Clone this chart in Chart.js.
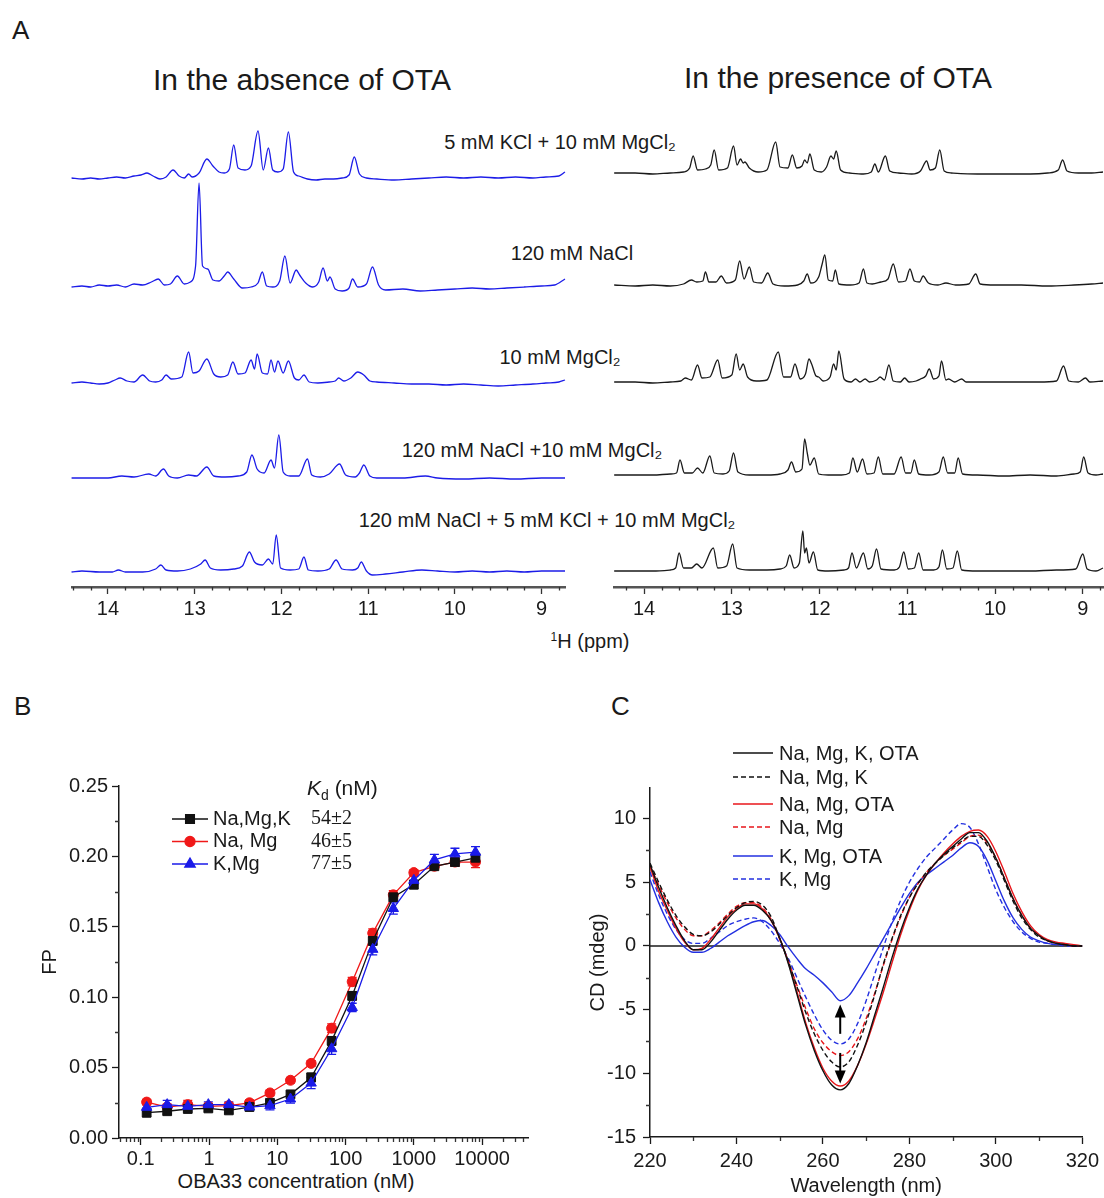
<!DOCTYPE html>
<html>
<head>
<meta charset="utf-8">
<script src="https://cdn.jsdelivr.net/npm/chart.js@4.4.1/dist/chart.umd.min.js"></script>
<style>
  html, body { margin: 0; padding: 0; background: #fff; }
  #fig { position: relative; width: 1104px; height: 1198px; overflow: hidden;
         font-family: 'Liberation Sans', Arial, sans-serif; color: #1a1a1a; }
  #fig canvas { position: absolute; }
  .t { position: absolute; white-space: nowrap; transform: translate(-50%, -50%); line-height: 1; }
  .panel { position: absolute; font-size: 26px; line-height: 1; }
  .head { font-size: 30px; }
  .lab { font-size: 20px; }
</style>
</head>
<body>
<div id="fig">
  <div class="panel" style="left:12px;top:17px">A</div>
  <div class="panel" style="left:14px;top:693px">B</div>
  <div class="panel" style="left:611px;top:693px">C</div>

  <div class="t head" style="left:302px;top:80px">In the absence of OTA</div>
  <div class="t head" style="left:838px;top:78px">In the presence of OTA</div>

  <div class="t lab" style="left:560px;top:142px">5 mM KCl + 10 mM MgCl₂</div>
  <div class="t lab" style="left:572px;top:253px">120 mM NaCl</div>
  <div class="t lab" style="left:560px;top:357px">10 mM MgCl₂</div>
  <div class="t lab" style="left:532px;top:450px">120 mM NaCl +10 mM MgCl₂</div>
  <div class="t lab" style="left:547px;top:520px">120 mM NaCl + 5 mM KCl + 10 mM MgCl₂</div>
  <div class="t lab" style="left:590px;top:641px"><sup style="font-size:12px">1</sup>H (ppm)</div>
  <div class="t lab" style="left:296px;top:1181px">OBA33 concentration (nM)</div>

  <canvas id="nmrLeft" width="580" height="560" style="left:0;top:100px;width:580px;height:560px"></canvas>
  <canvas id="nmrRight" width="504" height="560" style="left:600px;top:100px;width:504px;height:560px"></canvas>
  <canvas id="fp" width="560" height="438" style="left:0;top:760px;width:560px;height:438px"></canvas>
  <canvas id="cd" width="524" height="468" style="left:580px;top:730px;width:524px;height:468px"></canvas>
</div>

<script>
// ---------- Panel A: imino 1H NMR spectra, [ppm, intensity] ----------
// top to bottom: KCl+MgCl2, NaCl, MgCl2, NaCl+MgCl2, NaCl+KCl+MgCl2
const nmrFreeKMg = [[14.42,0],[14.3,-1],[14.2,0],[14.1,-1],[14.0,0],[13.9,1],[13.8,0],[13.7,2],[13.62,3],[13.55,5],[13.48,2],[13.4,-1],[13.33,1],[13.25,8],[13.18,2],[13.12,0],[13.07,4],[13.03,1],[12.95,5],[12.86,19],[12.79,12],[12.72,6],[12.66,5],[12.6,9],[12.55,33],[12.5,10],[12.42,8],[12.35,12],[12.27,47],[12.21,8],[12.15,30],[12.1,8],[12.04,6],[11.98,9],[11.92,46],[11.86,6],[11.8,2],[11.7,-1],[11.6,-2],[11.5,-1],[11.4,-1],[11.3,0],[11.22,3],[11.16,21],[11.1,4],[11.02,0],[10.9,-1],[10.7,-2],[10.5,-1],[10.3,0],[10.1,1],[9.9,0],[9.7,1],[9.5,0],[9.3,1],[9.1,0],[8.95,1],[8.8,2],[8.73,6]];
const nmrFreeNa = [[14.42,-1],[14.3,0],[14.2,-1],[14.1,1],[14.0,0],[13.9,1],[13.8,-1],[13.7,2],[13.6,1],[13.5,4],[13.42,7],[13.35,1],[13.28,2],[13.2,10],[13.12,2],[13.05,4],[12.99,20],[12.95,103],[12.91,20],[12.85,17],[12.79,6],[12.72,5],[12.66,10],[12.62,14],[12.55,7],[12.45,-2],[12.35,-1],[12.27,3],[12.22,14],[12.17,0],[12.1,-1],[12.02,5],[11.96,30],[11.9,3],[11.83,16],[11.79,11],[11.72,3],[11.64,-1],[11.57,4],[11.52,18],[11.47,5],[11.44,9],[11.38,-3],[11.3,-5],[11.22,-2],[11.18,7],[11.12,-1],[11.02,2],[10.95,19],[10.88,1],[10.8,-4],[10.6,-3],[10.4,-5],[10.2,-4],[10.0,-3],[9.8,-2],[9.6,-3],[9.4,-2],[9.2,-1],[9.0,0],[8.85,1],[8.73,7]];
const nmrFreeMg = [[14.42,0],[14.3,1],[14.2,0],[14.1,-1],[14.0,0],[13.92,3],[13.86,5],[13.78,2],[13.7,1],[13.6,8],[13.52,2],[13.45,1],[13.38,3],[13.33,8],[13.27,4],[13.15,6],[13.07,31],[13.02,10],[12.95,12],[12.86,24],[12.78,9],[12.7,6],[12.62,8],[12.56,21],[12.5,9],[12.42,10],[12.35,23],[12.31,14],[12.28,29],[12.22,10],[12.16,9],[12.12,23],[12.08,11],[12.04,22],[11.98,10],[11.92,22],[11.85,5],[11.8,3],[11.74,8],[11.68,1],[11.58,0],[11.45,1],[11.38,2],[11.34,5],[11.28,2],[11.2,5],[11.12,11],[11.05,8],[10.98,2],[10.9,1],[10.7,0],[10.5,-1],[10.3,-1],[10.1,-2],[9.9,-1],[9.7,-2],[9.5,-3],[9.3,-2],[9.1,-1],[8.95,0],[8.8,1],[8.73,3]];
const nmrFreeNaMg = [[14.42,0],[14.2,0],[14.0,0],[13.84,2],[13.7,1],[13.53,4],[13.45,2],[13.36,9],[13.3,2],[13.2,0],[13.07,3],[12.98,2],[12.86,11],[12.78,2],[12.65,1],[12.5,2],[12.4,6],[12.34,23],[12.28,9],[12.2,5],[12.12,18],[12.08,10],[12.03,43],[11.98,6],[11.9,2],[11.8,2],[11.7,19],[11.65,3],[11.55,1],[11.45,4],[11.33,14],[11.26,3],[11.15,1],[11.1,5],[11.05,13],[10.98,2],[10.9,0],[10.6,0],[10.34,2],[10.2,0],[9.9,-1],[9.6,0],[9.3,-1],[9.0,0],[8.73,0]];
const nmrFreeAll = [[14.42,0],[14.3,1],[14.1,0],[13.95,0],[13.88,2],[13.8,0],[13.6,0],[13.45,3],[13.39,7],[13.33,2],[13.2,1],[13.05,3],[12.93,8],[12.88,12],[12.82,4],[12.7,2],[12.55,3],[12.45,6],[12.37,20],[12.31,10],[12.22,7],[12.15,13],[12.1,8],[12.06,37],[12.01,4],[11.9,2],[11.8,3],[11.74,15],[11.69,2],[11.58,1],[11.45,3],[11.37,12],[11.3,3],[11.18,2],[11.12,4],[11.08,10],[11.02,1],[10.95,-3],[10.8,-2],[10.6,0],[10.38,2],[10.2,1],[10.0,0],[9.8,1],[9.6,0],[9.4,1],[9.2,0],[9.0,1],[8.73,1]];

const nmrOtaKMg = [[14.34,0],[14.1,0],[13.9,-1],[13.7,0],[13.55,1],[13.48,5],[13.44,17],[13.39,3],[13.3,4],[13.24,8],[13.2,23],[13.15,3],[13.05,5],[12.98,27],[12.94,8],[12.9,14],[12.87,10],[12.85,11],[12.8,5],[12.7,1],[12.6,3],[12.5,31],[12.45,6],[12.36,5],[12.31,18],[12.26,5],[12.2,7],[12.17,13],[12.14,10],[12.11,19],[12.06,3],[11.98,1],[11.92,6],[11.87,17],[11.84,14],[11.81,22],[11.76,3],[11.66,0],[11.5,-1],[11.41,1],[11.37,9],[11.33,1],[11.25,17],[11.2,2],[11.1,0],[10.95,-1],[10.85,2],[10.78,12],[10.74,3],[10.68,5],[10.63,23],[10.58,2],[10.5,0],[10.2,-1],[9.9,-1],[9.6,-1],[9.4,0],[9.28,3],[9.23,13],[9.18,2],[9.05,0],[8.9,0],[8.77,1]];
const nmrOtaNa = [[14.34,0],[14.1,-1],[13.9,0],[13.7,-1],[13.55,1],[13.46,5],[13.4,3],[13.33,4],[13.3,13],[13.26,3],[13.18,3],[13.12,9],[13.06,2],[12.96,5],[12.91,24],[12.86,6],[12.8,18],[12.75,3],[12.66,2],[12.59,12],[12.53,1],[12.4,-1],[12.25,0],[12.18,4],[12.14,11],[12.1,2],[12.01,8],[11.97,21],[11.94,30],[11.9,5],[11.85,4],[11.82,15],[11.78,1],[11.65,0],[11.55,2],[11.5,16],[11.46,2],[11.4,1],[11.3,3],[11.22,6],[11.16,21],[11.1,3],[11.02,4],[10.97,16],[10.92,4],[10.86,3],[10.82,9],[10.76,2],[10.65,0],[10.56,2],[10.45,0],[10.3,1],[10.22,11],[10.17,1],[10.0,0],[9.7,0],[9.4,-1],[9.1,0],[8.9,1],[8.77,2]];
const nmrOtaMg = [[14.34,0],[14.1,0],[13.9,-1],[13.7,0],[13.58,1],[13.53,4],[13.46,2],[13.39,17],[13.34,4],[13.25,5],[13.16,22],[13.11,4],[13.0,7],[12.95,28],[12.91,12],[12.87,18],[12.82,5],[12.72,1],[12.6,2],[12.47,30],[12.41,5],[12.33,5],[12.28,18],[12.22,3],[12.16,8],[12.12,23],[12.09,18],[12.04,6],[12.01,5],[11.96,1],[11.88,5],[11.84,18],[11.81,12],[11.78,31],[11.72,3],[11.64,0],[11.59,3],[11.54,0],[11.48,3],[11.43,0],[11.35,2],[11.31,5],[11.26,2],[11.21,17],[11.16,1],[11.08,0],[11.03,4],[10.98,0],[10.9,1],[10.85,3],[10.79,6],[10.75,13],[10.7,3],[10.64,6],[10.61,21],[10.56,2],[10.53,3],[10.46,0],[10.38,3],[10.33,0],[10.1,0],[9.8,0],[9.5,0],[9.3,1],[9.22,16],[9.16,1],[9.05,0],[8.97,4],[8.92,0],[8.77,1]];
const nmrOtaNaMg = [[14.34,0],[14.1,0],[13.9,0],[13.7,1],[13.63,2],[13.59,15],[13.54,2],[13.45,2],[13.39,7],[13.33,2],[13.25,19],[13.2,2],[13.1,1],[13.03,4],[12.98,22],[12.93,3],[12.8,0],[12.6,0],[12.45,1],[12.36,5],[12.32,13],[12.27,3],[12.2,6],[12.17,36],[12.14,22],[12.11,10],[12.06,17],[12.01,1],[11.9,0],[11.75,0],[11.66,2],[11.62,17],[11.57,3],[11.51,16],[11.46,1],[11.38,2],[11.33,18],[11.28,1],[11.15,1],[11.07,18],[11.02,2],[10.96,2],[10.92,15],[10.87,1],[10.75,0],[10.64,3],[10.59,18],[10.54,2],[10.46,2],[10.42,17],[10.37,1],[10.2,0],[9.9,-1],[9.6,0],[9.3,-1],[9.1,1],[9.03,3],[8.99,18],[8.94,2],[8.85,0],[8.77,1]];
const nmrOtaAll = [[14.34,0],[14.1,0],[13.9,0],[13.7,1],[13.64,3],[13.6,18],[13.55,3],[13.46,3],[13.4,7],[13.34,3],[13.21,23],[13.16,3],[13.06,5],[12.99,27],[12.94,3],[12.8,1],[12.6,1],[12.45,2],[12.38,5],[12.34,16],[12.29,3],[12.23,8],[12.19,40],[12.17,18],[12.15,23],[12.12,8],[12.07,19],[12.02,1],[11.9,0],[11.72,1],[11.67,3],[11.63,18],[11.58,3],[11.5,18],[11.45,2],[11.4,5],[11.35,22],[11.3,2],[11.15,1],[11.09,4],[11.04,19],[10.99,2],[10.92,3],[10.87,18],[10.82,1],[10.7,1],[10.64,4],[10.6,21],[10.55,2],[10.48,3],[10.43,20],[10.38,1],[10.2,0],[9.9,0],[9.6,0],[9.3,1],[9.08,2],[9.0,17],[8.95,2],[8.85,0],[8.77,3]];

// ---------- Panel B: fluorescence polarisation titration ----------
const fpConc = [0.122, 0.244, 0.488, 0.977, 1.95, 3.91, 7.81, 15.6, 31.3, 62.5, 125, 250, 500, 1000, 2000, 4000, 8000];
const fpNaMgK = [0.018, 0.019, 0.0206, 0.021, 0.0196, 0.022, 0.025, 0.031, 0.043, 0.069, 0.101, 0.140, 0.171, 0.180, 0.193, 0.196, 0.199];
const fpNaMgKErr = [0.003, 0.002, 0.002, 0.002, 0.002, 0.002, 0.002, 0.002, 0.003, 0.003, 0.003, 0.003, 0.003, 0.003, 0.002, 0.003, 0.003];
const fpNaMg = [0.0255, 0.022, 0.0237, 0.0225, 0.023, 0.025, 0.032, 0.041, 0.053, 0.078, 0.111, 0.1455, 0.1727, 0.1885, 0.193, 0.196, 0.196];
const fpNaMgErr = [0.002, 0.002, 0.003, 0.002, 0.002, 0.002, 0.002, 0.002, 0.002, 0.003, 0.003, 0.003, 0.003, 0.002, 0.002, 0.003, 0.004];
const fpKMg = [0.0218, 0.0237, 0.0225, 0.0237, 0.0237, 0.022, 0.023, 0.0277, 0.039, 0.0634, 0.0927, 0.134, 0.163, 0.183, 0.1975, 0.2018, 0.203];
const fpKMgErr = [0.003, 0.003, 0.003, 0.002, 0.002, 0.002, 0.003, 0.003, 0.004, 0.004, 0.003, 0.004, 0.004, 0.003, 0.004, 0.004, 0.004];
const fpLabels = ["Na,Mg,K", "Na, Mg", "K,Mg"];
const fpKd = ["54±2", "46±5", "77±5"];
const fpMajorTicks = [0.1, 1, 10, 100, 1000, 10000];
const fpYTicks = [0, 0.05, 0.1, 0.15, 0.2, 0.25];

// ---------- Panel C: CD spectra ----------
const cdWavelength = [220,222,224,226,228,230,232,234,236,238,240,242,244,246,248,250,252,254,256,258,260,262,264,266,268,270,272,274,276,278,280,282,284,286,288,290,292,294,296,298,300,302,304,306,308,310,312,314,316,318,320];
const cdNaMgKOta = [6.4,4.6,3.0,1.6,0.4,-0.3,-0.3,0.3,1.2,2.1,2.8,3.2,3.2,2.8,2.0,0.6,-1.4,-3.8,-6.2,-8.2,-9.8,-10.9,-11.3,-10.8,-9.4,-7.6,-5.4,-3.2,-0.9,1.2,3.0,4.5,5.6,6.5,7.2,7.8,8.4,8.9,8.9,8.2,6.9,5.3,3.7,2.4,1.4,0.8,0.4,0.2,0.1,0.0,0.0];
const cdNaMgK = [6.5,5.0,3.6,2.4,1.5,0.9,0.8,1.1,1.7,2.4,3.0,3.4,3.5,3.2,2.3,0.6,-1.2,-3.2,-5.2,-6.9,-8.2,-9.1,-9.5,-9.1,-7.8,-6.0,-3.8,-1.4,0.6,2.4,3.8,4.9,5.8,6.5,7.1,7.7,8.2,8.6,8.6,7.9,6.7,5.1,3.5,2.2,1.3,0.7,0.4,0.2,0.1,0.0,0.0];
const cdNaMgOta = [6.2,4.3,2.8,1.4,0.3,-0.3,-0.2,0.5,1.4,2.3,2.9,3.3,3.3,2.9,2.0,0.6,-1.3,-3.6,-6.0,-8.0,-9.6,-10.6,-11.0,-10.6,-9.4,-7.7,-5.7,-3.6,-1.3,0.9,2.8,4.4,5.6,6.5,7.3,8.0,8.6,9.0,9.1,8.6,7.4,5.8,4.1,2.7,1.6,0.9,0.5,0.3,0.2,0.1,0.0];
const cdNaMg = [6.3,4.8,3.4,2.2,1.3,0.8,0.8,1.2,1.8,2.5,3.1,3.4,3.4,3.0,2.1,0.5,-1.2,-3.1,-4.9,-6.5,-7.6,-8.3,-8.6,-8.3,-7.3,-5.7,-3.7,-1.5,0.5,2.3,3.8,4.9,5.8,6.5,7.1,7.6,8.1,8.6,8.7,8.1,6.9,5.3,3.7,2.4,1.4,0.8,0.4,0.2,0.1,0.0,0.0];
const cdKMgOta = [5.2,3.4,1.9,0.7,-0.1,-0.5,-0.5,-0.2,0.3,0.8,1.2,1.6,1.9,2.0,1.6,0.9,-0.1,-1.0,-1.8,-2.3,-2.9,-3.6,-4.3,-3.9,-2.9,-1.8,-0.6,0.6,1.8,3.0,4.1,5.0,5.6,6.1,6.6,7.1,7.7,8.1,7.8,6.7,5.1,3.5,2.2,1.3,0.7,0.4,0.2,0.1,0.1,0.0,0.0];
const cdKMg = [5.8,4.0,2.5,1.3,0.5,0.2,0.2,0.6,1.1,1.6,1.9,2.1,2.2,1.9,1.2,0.2,-1.0,-2.5,-4.0,-5.4,-6.6,-7.4,-7.7,-7.3,-6.1,-4.3,-2.2,-0.1,1.9,3.6,5.0,6.1,7.0,7.7,8.4,9.1,9.6,9.3,8.0,6.2,4.4,3.0,1.9,1.1,0.6,0.3,0.2,0.1,0.0,0.0,0.0];
const cdLabels = ["Na, Mg, K, OTA", "Na, Mg, K", "Na, Mg, OTA", "Na, Mg", "K, Mg, OTA", "K, Mg"];
// arrows at the 264 nm minimum: [wavelength, from, to]
const cdArrows = [[264, -6.9, -4.6], [264, -8.4, -10.8]];

// ---------- shared helpers ----------
Chart.defaults.font.family = "'Liberation Sans', Arial, sans-serif";
Chart.defaults.color = "#1a1a1a";
const INK = "#1a1a1a";

// short unlabeled ticks between the labelled ones
function minorTicks(axes, length) {
  return {
    id: "minorTicks",
    afterDraw(chart) {
      const ctx = chart.ctx;
      ctx.save();
      ctx.lineWidth = 1.3;
      ctx.strokeStyle = "#333";
      for (const [id, vals] of Object.entries(axes)) {
        const s = chart.scales[id];
        ctx.beginPath();
        vals.forEach((v) => {
          if (v < s.min || v > s.max) return;
          const p = Math.round(s.getPixelForValue(v)) + 0.5;
          if (s.isHorizontal()) { ctx.moveTo(p, s.top); ctx.lineTo(p, s.top + length); }
          else { ctx.moveTo(s.right, p); ctx.lineTo(s.right - length, p); }
        });
        ctx.stroke();
      }
      ctx.restore();
    },
  };
}

function range(from, to, step) {
  const out = [];
  for (let v = from; v <= to + 1e-9; v += step) out.push(+v.toFixed(4));
  return out;
}

// ---------- Panel A ----------
const nmrMinor = range(8.8, 14.4, 0.2).filter((v) => Math.abs(v - Math.round(v)) > 1e-6);

function nmrChart(id, spectra, baselines, color, xMin, xMax, padding) {
  return new Chart(document.getElementById(id), {
    type: "line",
    data: {
      datasets: spectra.map((s, i) => ({
        data: s.map(([x, v]) => ({ x, y: v + baselines[i] })),
        borderColor: color,
        borderWidth: 1.3,
        pointRadius: 0,
        cubicInterpolationMode: "monotone",
        clip: false,
      })),
    },
    options: {
      responsive: false, animation: false, devicePixelRatio: 1,
      layout: { padding },
      plugins: { legend: { display: false }, tooltip: { enabled: false } },
      scales: {
        x: {
          type: "linear", reverse: true, min: xMin, max: xMax,
          afterFit: (s) => { s.height = 73 },
          ticks: { stepSize: 1, includeBounds: false, font: { size: 20 }, color: INK, padding: 3 },
          grid: { drawOnChartArea: false, tickLength: 7, tickColor: "#333", tickWidth: 1.3 },
          border: { color: "#555", width: 2.4 },
        },
        y: { display: false, min: 0, max: 487 },
      },
    },
    plugins: [minorTicks({ x: nmrMinor }, 3.5)],
  });
}

// baseline of each trace, counted up from the axis (chart-area pixels)
nmrChart("nmrLeft", [nmrFreeKMg, nmrFreeNa, nmrFreeMg, nmrFreeNaMg, nmrFreeAll],
  [409, 301, 204, 109, 15], "#1c1ce8", 8.73, 14.415, { left: 72, right: 15, top: 0, bottom: 0 });
nmrChart("nmrRight", [nmrOtaKMg, nmrOtaNa, nmrOtaMg, nmrOtaNaMg, nmrOtaAll],
  [414, 302, 205, 112, 16], "#1a1a1a", 8.77, 14.342, { left: 14, right: 1, top: 0, bottom: 0 });

// ---------- Panel B ----------
const errorBars = {
  id: "errorBars",
  beforeDatasetsDraw(chart) {
    const { ctx, scales: { x, y } } = chart;
    chart.data.datasets.forEach((ds) => {
      if (!ds.errors) return;
      ctx.save();
      ctx.strokeStyle = ds.borderColor;
      ctx.lineWidth = 1.3;
      ctx.beginPath();
      ds.data.forEach((p, j) => {
        const e = ds.errors[j];
        const px = x.getPixelForValue(p.x);
        const top = y.getPixelForValue(p.y + e);
        const bot = y.getPixelForValue(p.y - e);
        ctx.moveTo(px, top); ctx.lineTo(px, bot);
        ctx.moveTo(px - 4.5, top); ctx.lineTo(px + 4.5, top);
        ctx.moveTo(px - 4.5, bot); ctx.lineTo(px + 4.5, bot);
      });
      ctx.stroke();
      ctx.restore();
    });
  },
};

const fpLegend = {
  id: "fpLegend",
  afterDraw(chart) {
    const { ctx, chartArea: a } = chart;
    ctx.save();
    ctx.textBaseline = "middle";
    ctx.fillStyle = INK;
    const hx = a.left + 188, hy = a.top + 3;
    ctx.font = "italic 21px 'Liberation Sans'";
    ctx.fillText("K", hx, hy);
    const kw = ctx.measureText("K").width;
    ctx.font = "14px 'Liberation Sans'";
    ctx.fillText("d", hx + kw, hy + 7);
    const dw = ctx.measureText("d").width;
    ctx.font = "21px 'Liberation Sans'";
    ctx.fillText(" (nM)", hx + kw + dw, hy);

    chart.data.datasets.forEach((ds, i) => {
      const y = a.top + 33 + i * 22.5;
      ctx.strokeStyle = ds.borderColor;
      ctx.fillStyle = ds.backgroundColor;
      ctx.lineWidth = 1.3;
      ctx.beginPath();
      ctx.moveTo(a.left + 53, y); ctx.lineTo(a.left + 89, y);
      ctx.stroke();
      Chart.helpers.drawPoint(ctx, { pointStyle: ds.pointStyle, radius: ds.pointRadius, rotation: 0, borderWidth: 1 }, a.left + 71, y);
      ctx.fillStyle = INK;
      ctx.font = "20px 'Liberation Sans'";
      ctx.fillText(fpLabels[i], a.left + 94, y);
      ctx.font = "20px 'Liberation Serif'";
      ctx.fillText(fpKd[i], a.left + 192, y);
    });
    ctx.restore();
  },
};

function fpSet(values, errors, color, style, radius, order) {
  return {
    data: fpConc.map((c, i) => ({ x: c, y: values[i] })),
    errors,
    borderColor: color, backgroundColor: color,
    borderWidth: 1.3, tension: 0,
    pointStyle: style, pointRadius: radius, pointBorderWidth: 1, order,
  };
}

new Chart(document.getElementById("fp"), {
  type: "line",
  data: {
    datasets: [
      fpSet(fpNaMgK, fpNaMgKErr, "#111111", "rect", 6.2, 1),
      fpSet(fpNaMg, fpNaMgErr, "#f01818", "circle", 5, 2),
      fpSet(fpKMg, fpKMgErr, "#1a1ae8", "triangle", 6, 0),
    ],
  },
  options: {
    responsive: false, animation: false, devicePixelRatio: 1,
    layout: { padding: { top: 26, right: 32, left: 0, bottom: 0 } },
    plugins: { legend: { display: false }, tooltip: { enabled: false } },
    scales: {
      x: {
        type: "logarithmic", min: 0.048, max: 47000,
        afterBuildTicks: (s) => { s.ticks = fpMajorTicks.map((v) => ({ value: v })) },
        afterFit: (s) => { s.height = 60 },
        ticks: { font: { size: 20 }, color: INK, padding: 2, autoSkip: false, maxRotation: 0,
                 callback: (v) => String(v) },
        grid: { drawOnChartArea: false, tickLength: 7, tickColor: INK, tickWidth: 1.3 },
        border: { color: INK, width: 1.5 },
      },
      y: {
        min: 0, max: 0.25,
        afterBuildTicks: (s) => { s.ticks = fpYTicks.map((v) => ({ value: v })) },
        afterFit: (s) => { s.width = 119 },
        ticks: { font: { size: 20 }, color: INK, padding: 4, callback: (v) => v.toFixed(2) },
        grid: { drawOnChartArea: false, tickLength: 7, tickColor: INK, tickWidth: 1.3 },
        border: { color: INK, width: 1.5 },
        title: { display: true, text: "FP", font: { size: 20 }, color: INK, padding: { top: 38, bottom: 0 } },
      },
    },
  },
  plugins: [
    errorBars, fpLegend,
    minorTicks({
      y: [0.025, 0.075, 0.125, 0.175, 0.225],
      x: [-2, -1, 0, 1, 2, 3, 4].flatMap((d) => [2, 3, 4, 5, 6, 7, 8, 9].map((m) => m * Math.pow(10, d))),
    }, 4),
  ],
});

// ---------- Panel C ----------
const cdStyles = [
  { color: "#111111", dash: [] }, { color: "#111111", dash: [5, 3] },
  { color: "#e8161b", dash: [] }, { color: "#e8161b", dash: [5, 3] },
  { color: "#2330e0", dash: [] }, { color: "#2330e0", dash: [5, 3] },
];
const cdLegendRows = [-35, -11, 16, 39, 68, 91];

const cdExtras = {
  id: "cdExtras",
  beforeDatasetsDraw(chart) {
    const { ctx, chartArea: a, scales: { y } } = chart;
    const y0 = y.getPixelForValue(0);
    ctx.save();
    ctx.strokeStyle = INK;
    ctx.lineWidth = 1.4;
    ctx.beginPath();
    ctx.moveTo(a.left, y0); ctx.lineTo(a.right, y0);
    ctx.stroke();
    ctx.restore();
  },
  afterDatasetsDraw(chart) {
    const { ctx, chartArea: a, scales: { x, y } } = chart;
    ctx.save();
    // arrows
    ctx.strokeStyle = "#000";
    ctx.fillStyle = "#000";
    ctx.lineWidth = 2;
    cdArrows.forEach(([w, from, to]) => {
      const px = x.getPixelForValue(w);
      const p0 = y.getPixelForValue(from), p1 = y.getPixelForValue(to);
      const dir = Math.sign(p1 - p0);
      ctx.beginPath();
      ctx.moveTo(px, p0); ctx.lineTo(px, p1 - dir * 10);
      ctx.stroke();
      ctx.beginPath();
      ctx.moveTo(px, p1); ctx.lineTo(px - 5.5, p1 - dir * 13); ctx.lineTo(px + 5.5, p1 - dir * 13);
      ctx.closePath();
      ctx.fill();
    });
    // legend
    ctx.textBaseline = "middle";
    ctx.font = "20px 'Liberation Sans'";
    chart.data.datasets.forEach((ds, i) => {
      const ly = a.top + cdLegendRows[i];
      ctx.strokeStyle = ds.borderColor;
      ctx.lineWidth = 1.5;
      ctx.setLineDash(ds.borderDash);
      ctx.beginPath();
      ctx.moveTo(a.left + 83, ly); ctx.lineTo(a.left + 123, ly);
      ctx.stroke();
      ctx.setLineDash([]);
      ctx.fillStyle = INK;
      ctx.fillText(cdLabels[i], a.left + 129, ly + 1);
    });
    ctx.restore();
  },
};

new Chart(document.getElementById("cd"), {
  type: "line",
  data: {
    datasets: [cdNaMgKOta, cdNaMgK, cdNaMgOta, cdNaMg, cdKMgOta, cdKMg].map((vals, i) => ({
      data: cdWavelength.map((w, j) => ({ x: w, y: vals[j] })),
      borderColor: cdStyles[i].color,
      borderDash: cdStyles[i].dash,
      borderWidth: 1.4,
      pointRadius: 0,
      cubicInterpolationMode: "monotone",
    })),
  },
  options: {
    responsive: false, animation: false, devicePixelRatio: 1,
    layout: { padding: { top: 58, right: 14, left: 0, bottom: 0 } },
    plugins: { legend: { display: false }, tooltip: { enabled: false } },
    scales: {
      x: {
        type: "linear", min: 220, max: 320,
        afterFit: (s) => { s.height = 61 },
        ticks: { stepSize: 20, font: { size: 20 }, color: INK, padding: 5, maxRotation: 0 },
        grid: { drawOnChartArea: false, tickLength: 7, tickColor: INK, tickWidth: 1.3 },
        border: { color: INK, width: 1.5 },
        title: { display: true, text: "Wavelength (nm)", font: { size: 20 }, color: INK,
                 padding: { top: 0, bottom: 0 } },
      },
      y: {
        min: -15, max: 12.4,
        afterFit: (s) => { s.width = 70 },
        ticks: { stepSize: 5, includeBounds: false, font: { size: 20 }, color: INK, padding: 7 },
        grid: { drawOnChartArea: false, tickLength: 7, tickColor: INK, tickWidth: 1.3 },
        border: { color: INK, width: 1.5 },
        title: { display: true, text: "CD (mdeg)", font: { size: 20 }, color: INK, padding: { top: 6, bottom: 0 } },
      },
    },
  },
  plugins: [cdExtras, minorTicks({ x: [230, 250, 270, 290, 310], y: [-12.5, -7.5, -2.5, 2.5, 7.5] }, 4)],
});
</script>
</body>
</html>
